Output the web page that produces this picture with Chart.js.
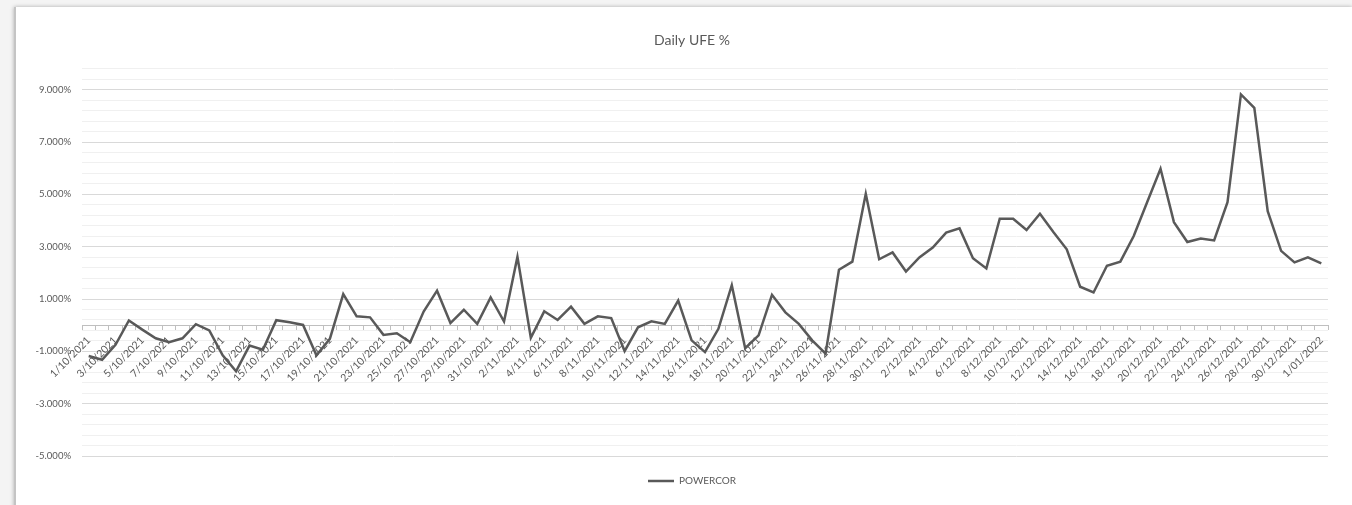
<!DOCTYPE html>
<html>
<head>
<meta charset="utf-8">
<title>Daily UFE %</title>
<script src="https://cdn.jsdelivr.net/npm/chart.js@4.4.0/dist/chart.umd.min.js"></script>
<style>
  html, body { margin: 0; padding: 0; background: #f4f4f4; width: 1352px; height: 505px; overflow: hidden; }
  #card { position: absolute; left: 14px; top: 7px; width: 1336px; height: 510px; background: #fff;
          border-left: 2px solid #c4c4c4; box-shadow: 0 0 4px rgba(0,0,0,.3); }
  #wrap { position: absolute; left: 32px; top: 0; width: 1320px; height: 505px; }
</style>
</head>
<body>
<div id="card"></div>
<div id="wrap"><canvas id="ufeChart" width="1320" height="505"></canvas></div>
<script>
// one label per day, 1/10/2021 .. 1/01/2022
const dayLabels = [];
for (let i = 0; i < 93; i++) {
  const d = new Date(2021, 9, 1 + i);
  dayLabels.push(`${d.getDate()}/${String(d.getMonth() + 1).padStart(2, '0')}/${d.getFullYear()}`);
}

const seriesName = 'POWERCOR';
// daily UFE in %
const powercor = [
  -1.18, -1.32, -0.75, 0.18, -0.17, -0.50, -0.65, -0.50, 0.04, -0.20,
  -1.15, -1.76, -0.78, -0.94, 0.19, 0.11, 0.01, -1.15, -0.52, 1.19,
  0.34, 0.30, -0.37, -0.31, -0.65, 0.52, 1.32, 0.08, 0.59, 0.05,
  1.06, 0.14, 2.61, -0.48, 0.53, 0.20, 0.71, 0.05, 0.34, 0.27,
  -0.99, -0.08, 0.15, 0.05, 0.94, -0.58, -1.03, -0.14, 1.53, -0.88,
  -0.39, 1.16, 0.49, 0.05, -0.58, -1.09, 2.12, 2.43, 5.02, 2.52,
  2.78, 2.05, 2.59, 2.97, 3.54, 3.70, 2.56, 2.17, 4.07, 4.07,
  3.64, 4.26, 3.56, 2.90, 1.47, 1.25, 2.27, 2.43, 3.41, 4.70,
  5.98, 3.94, 3.18, 3.31, 3.24, 4.70, 8.82, 8.31, 4.36, 2.84,
  2.40, 2.59, 2.36
];

const yMin = -5, yMax = 9.8, yMinorStep = 0.4;
const isMajor = v => { const k = (v - yMin) / 2; return Math.abs(k - Math.round(k)) < 1e-6; };

const FONT = 'Lato, "Open Sans", sans-serif';
const GREY_TEXT = '#595959';

new Chart(document.getElementById('ufeChart'), {
  type: 'line',
  data: {
    labels: dayLabels,
    datasets: [{
      label: seriesName,
      data: powercor,
      borderColor: '#595959',
      backgroundColor: '#595959',
      borderWidth: 2.5,
      pointRadius: 0,
      tension: 0
    }]
  },
  options: {
    responsive: false,
    animation: false,
    layout: { padding: { top: 32, bottom: 9, left: 0, right: 0 } },
    plugins: {
      title: {
        display: true,
        text: 'Daily UFE %',
        color: GREY_TEXT,
        font: { family: FONT, size: 14, weight: 'normal' },
        padding: { top: 0, bottom: 20 }
      },
      legend: {
        position: 'bottom',
        labels: {
          color: GREY_TEXT,
          font: { family: FONT, size: 10 },
          usePointStyle: true,
          pointStyle: 'line',
          pointStyleWidth: 26,
          padding: 20
        }
      },
      tooltip: { enabled: false }
    },
    scales: {
      x: {
        type: 'category',
        position: { y: 0 },
        offset: true,
        grid: { offset: true, drawOnChartArea: false, drawTicks: true, tickLength: 4, color: '#bfbfbf' },
        border: { display: true, color: '#bfbfbf' },
        ticks: {
          autoSkip: false,
          minRotation: 45,
          maxRotation: 45,
          padding: 5,
          color: GREY_TEXT,
          font: { family: FONT, size: 10.5 },
          callback: (v, i) => i % 2 === 0 ? dayLabels[i] : ''
        }
      },
      y: {
        min: yMin,
        max: yMax,
        border: { display: false },
        grid: {
          drawTicks: false,
          color: ctx => isMajor(ctx.tick.value) ? '#d9d9d9' : '#f0f0f0'
        },
        ticks: {
          stepSize: yMinorStep,
          autoSkip: false,
          padding: 11,
          color: GREY_TEXT,
          font: { family: FONT, size: 9.5 },
          callback: v => isMajor(v) ? v.toFixed(3) + '%' : ''
        },
        afterFit: s => { s.width = 50; }
      },
      yRight: {
        type: 'linear',
        position: 'right',
        grid: { display: false },
        border: { display: false },
        ticks: { display: false },
        afterFit: s => { s.width = 24; }
      }
    }
  }
});
</script>
</body>
</html>
